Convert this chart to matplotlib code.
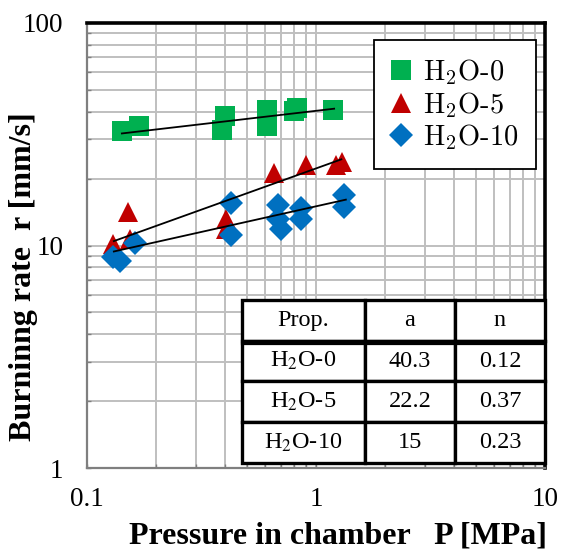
import matplotlib
matplotlib.use("Agg")
import matplotlib.pyplot as plt
from matplotlib.font_manager import FontProperties
from matplotlib.lines import Line2D
import numpy as np

# ---- data ----
series_names = ["H$_2$O-0", "H$_2$O-5", "H$_2$O-10"]
p_h2o0 = [0.142, 0.169, 0.40, 0.387, 0.61, 0.61, 0.80, 0.83, 1.19]
r_h2o0 = [32.6, 34.3, 38.1, 33.1, 40.8, 34.3, 40.1, 41.7, 40.8]
p_h2o5 = [0.151, 0.130, 0.154, 0.405, 0.405, 0.656, 0.90, 1.22, 1.30]
r_h2o5 = [14.2, 10.2, 10.7, 13.2, 11.9, 21.1, 23.0, 23.0, 23.8]
p_h2o10 = [0.130, 0.139, 0.162, 0.426, 0.424, 0.68, 0.68, 0.703, 0.857, 0.857, 1.32, 1.32]
r_h2o10 = [8.86, 8.55, 10.3, 15.5, 11.1, 15.2, 13.2, 11.9, 14.7, 13.2, 16.8, 14.9]
fit_a = [40.3, 22.2, 15]
fit_n = [0.12, 0.37, 0.23]
fit_range = [[0.142, 1.2], [0.131, 1.29], [0.131, 1.35]]
table_header = ["Prop.", "a", "n"]
table_names = ["H$_2$O-0", "H$_2$O-5", "H$_2$O-10"]
xticks = [0.1, 1, 10]
xticklabels = ["0.1", "1", "10"]
yticks = [1, 10, 100]
yticklabels = ["1", "10", "100"]

colors = ["#00B050", "#C00000", "#0070C0"]
markers = ["s", "^", "D"]
msizes = [14.5, 15, 12.5]

fig = plt.figure(figsize=(5.61, 5.56), dpi=100)
ax = fig.add_axes([87/561, 1-468/556, 458/561, 445/556])
ax.set_xscale("log")
ax.set_yscale("log")
ax.set_xlim(0.1, 10)
ax.set_ylim(1, 100)

# grid
ax.grid(True, which="both", color="#BFBFBF", linewidth=1.4, zorder=0)
ax.set_axisbelow(True)

xs = [p_h2o0, p_h2o5, p_h2o10]
ys = [r_h2o0, r_h2o5, r_h2o10]
handles = []
for i in range(3):
    ax.plot(xs[i], ys[i], linestyle="none", marker=markers[i], markersize=msizes[i],
            color=colors[i], markeredgewidth=0, zorder=3)
    handles.append(Line2D([], [], linestyle="none", marker=markers[i], markersize=msizes[i],
                          color=colors[i], markeredgewidth=0))
for i in range(3):
    px = np.array(fit_range[i])
    ax.plot(px, fit_a[i] * px ** fit_n[i], color="black", linewidth=1.3, zorder=4)

# spines
for s in ["left", "bottom"]:
    ax.spines[s].set_color("#7F7F7F")
    ax.spines[s].set_linewidth(1.6)
for s in ["top", "right"]:
    ax.spines[s].set_color("black")
    ax.spines[s].set_linewidth(2.6)

ax.set_xticks(xticks)
ax.set_xticklabels(xticklabels)
ax.set_yticks(yticks)
ax.set_yticklabels(yticklabels)
ax.tick_params(which="both", direction="in", length=3, color="#7F7F7F", width=1,
               top=False, right=False)
ax.tick_params(axis="x", which="major", pad=14, labelsize=19.5)
ax.tick_params(axis="y", which="major", pad=17, labelsize=19.5)
for lab in ax.get_xticklabels() + ax.get_yticklabels():
    lab.set_fontfamily("Liberation Serif")

ax.set_xlabel("Pressure in chamber   P [MPa]", fontfamily="Liberation Serif",
              fontweight="bold", fontsize=23)
ax.xaxis.set_label_coords(0.548, -0.121)
ax.set_ylabel("Burninng rate  r [mm/s]", fontfamily="Liberation Serif",
              fontweight="bold", fontsize=23)
ax.yaxis.set_label_coords(-0.107, 0.429)

# legend
lp = FontProperties(family="cmr10", size=20.5, math_fontfamily="cm")
leg = ax.legend(handles, series_names, prop=lp, loc="upper right",
                bbox_to_anchor=(0.980, 0.962), borderaxespad=0, frameon=True,
                fancybox=False, edgecolor="black", framealpha=1,
                handletextpad=0.4, labelspacing=0.1, borderpad=0.6, handlelength=0.75)
leg.get_frame().set_linewidth(1.3)
leg.set_zorder(6)

# table
cell_text = [[table_names[i], f"{fit_a[i]:g}", f"{fit_n[i]:g}"] for i in range(3)]
tb = ax.table(cellText=cell_text, colLabels=table_header, cellLoc="center",
              bbox=[0.338, 0.011, 0.662, 0.367], colWidths=[0.406, 0.297, 0.297],
              zorder=7)
tb.auto_set_font_size(False)
for (r, c), cell in tb.get_celld().items():
    cell.set_linewidth(2.4)
    cell.set_edgecolor("black")
    cell.set_facecolor("white")
    t = cell.get_text()
    t.set_fontfamily("Liberation Serif")
    t.set_fontsize(17.5)
    t.set_math_fontfamily("stix")
# double line under header
yb = 0.011 + 0.367 * 3 / 4
ax.plot([0.338, 1.0], [yb - 0.008, yb - 0.008], transform=ax.transAxes,
        color="black", linewidth=1.6, zorder=8, clip_on=False)

fig.savefig("out.png", dpi=100)
